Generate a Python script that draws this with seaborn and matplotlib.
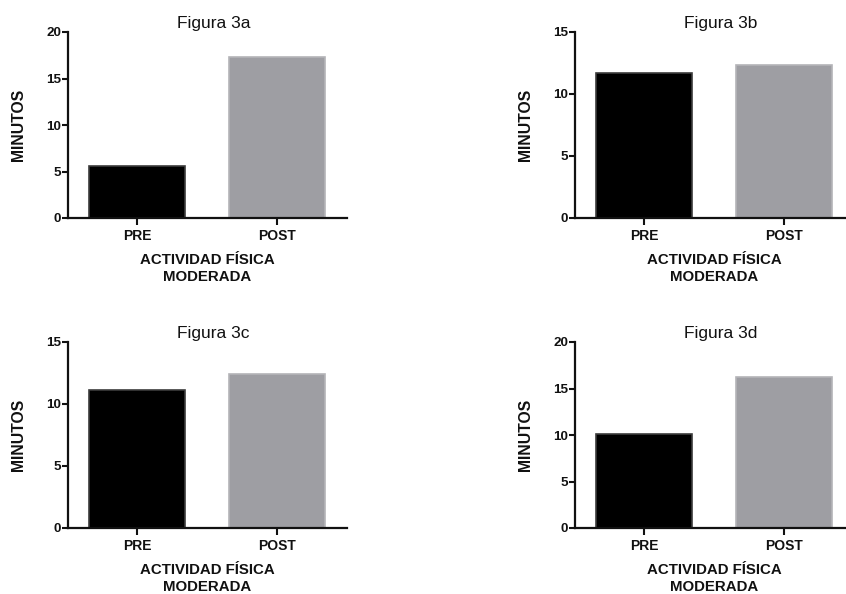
import matplotlib
matplotlib.use("Agg")
import matplotlib.pyplot as plt
import seaborn as sns
import pandas as pd

sns.set_theme(style="ticks")
plt.rcParams['font.family'] = ['Liberation Sans', 'DejaVu Sans']

categories = ["PRE", "POST"]
titles = ["Figura 3a", "Figura 3b", "Figura 3c", "Figura 3d"]
values_3a = [5.6, 17.3]
values_3b = [11.7, 12.3]
values_3c = [11.1, 12.4]
values_3d = [10.1, 16.2]
ymax = [20, 15, 15, 20]
yticks_step = 5
ylabel = "MINUTOS"
xlabel = "ACTIVIDAD FÍSICA\nMODERADA"

bar_colors = {"PRE": "#000000", "POST": "#9e9ea3"}
edge_colors = ["#3c3c3c", "#b4b4b8"]

W, H = 846, 594
fig = plt.figure(figsize=(W / 100, H / 100), dpi=100)

# axes pixel boxes: (left, top, right, bottom)
boxes = [(68, 32, 347, 218), (575, 32, 854, 218),
         (68, 342, 347, 528), (575, 342, 854, 528)]

all_vals = [values_3a, values_3b, values_3c, values_3d]
for i, (vals, title, ym, box) in enumerate(zip(all_vals, titles, ymax, boxes)):
    l, t, r, b = box
    ax = fig.add_axes([l / W, 1 - b / H, (r - l) / W, (b - t) / H])
    df = pd.DataFrame({"cat": categories, "val": vals})
    sns.barplot(data=df, x="cat", y="val", hue="cat", palette=bar_colors,
                order=categories, hue_order=categories, legend=False,
                width=0.68, ax=ax, saturation=1)
    for p, ec in zip(ax.patches, edge_colors):
        p.set_edgecolor(ec)
        p.set_linewidth(1.2)
    ax.set_xlim(-0.493, 1.5)
    ax.set_ylim(0, ym)
    ax.set_yticks(range(0, ym + 1, yticks_step))
    sns.despine(ax=ax)
    for s in ["left", "bottom"]:
        ax.spines[s].set_linewidth(1.6)
        ax.spines[s].set_color("#111111")
    ax.tick_params(axis="y", length=4, width=1.5, pad=1, labelsize=9.7,
                   colors="#111111")
    ax.tick_params(axis="x", length=5, width=1.5, pad=3, labelsize=10,
                   colors="#111111")
    for lab in ax.get_xticklabels() + ax.get_yticklabels():
        lab.set_fontweight("bold")
    ax.set_ylabel(ylabel, fontsize=11.3, fontweight="bold", color="#111111")
    ax.yaxis.set_label_coords(-0.15, 0.5)
    ax.set_xlabel(xlabel, fontsize=10.8, fontweight="bold", color="#111111",
                  linespacing=1.2)
    ax.xaxis.set_label_coords(0.5, -0.19)
    ax.set_title(title, fontsize=12.5, pad=3, color="#111111", x=0.522)
    ax.set_facecolor("white")

fig.savefig("out.png", dpi=100, facecolor="white")
